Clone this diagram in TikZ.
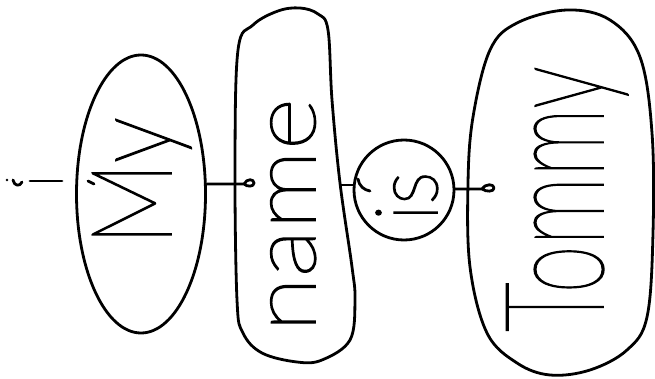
\documentclass[tikz,border=0pt]{standalone}
\usepackage{fontspec}
\usepackage{graphicx}
\usetikzlibrary{shapes.geometric}
\IfFontExistsTF{Lato Thin}{\newfontfamily\hand{Lato Thin}}{%
 \IfFontExistsTF{Poppins Thin}{\newfontfamily\hand{Poppins Thin}}{%
  \IfFontExistsTF{Fira Sans Thin}{\newfontfamily\hand{Fira Sans Thin}}{%
   \IfFontExistsTF{DejaVu Sans ExtraLight}{\newfontfamily\hand{DejaVu Sans ExtraLight}}{%
    \IfFontExistsTF{Open Sans Light}{\newfontfamily\hand{Open Sans Light}}{%
     \newfontfamily\hand{Liberation Sans}}}}}}
\newcommand\handsize[2]{\hand\fontsize{#1}{#1}\selectfont\addfontfeatures{FakeBold=#2}}
\tikzset{
  ink/.style={line width=2.8pt, line cap=round, line join=round, black},
  word/.style={inner sep=0pt, anchor=base west, rotate=90},
}
\begin{document}
\begin{tikzpicture}[x=1pt,y=-1pt]
\useasboundingbox (0,0) rectangle (655,379);
% shapes
\node[ink, draw, ellipse, minimum width=129pt, minimum height=278pt, inner sep=0pt] (my) at (141,194) {};
\draw[ink] plot[smooth cycle, tension=0.6] coordinates {(300,8) (318,14) (328,30) (332,100) (340,183) (352,267) (355,300) (350,340) (322,360) (297,362) (262,353) (243,333) (237,300) (235,167) (238,50) (253,25) (278,11)};
\node[ink, draw, circle, minimum size=100pt, inner sep=0pt] (is) at (404,190) {};
\draw[ink] plot[smooth cycle, tension=0.6] coordinates {(567,10) (610,20) (640,57) (652,133) (653,233) (647,317) (627,350) (590,370) (550,375) (517,363) (487,333) (470,267) (468,183) (473,117) (490,50) (517,23)};
% words
\node[word, font=\handsize{112}{1.6}] (tMy) at (171,246) {\scalebox{0.84}[1]{My}};
\node[word, font=\handsize{89}{2.0}] (tName) at (315,332) {\scalebox{1.13}[1]{name}};
\node[word, font=\handsize{87}{2.1}] (tIs) at (437,221) {\scalebox{0.9}[1]{is}};
\node[word, font=\handsize{138}{1.3}] (tTommy) at (603,332) {\scalebox{0.63}[1]{Tommy}};
% connectors
\coordinate (lA) at (244,184);
\draw[ink] (my.east |- lA) -- (lA) .. controls (247,178) and (254,179) .. (254,183) .. controls (254,187) and (247,187) .. (lA);
\coordinate (nR) at (341,185);
\draw[ink] (nR) -- (is.west |- nR);
\draw[ink] (358,179) .. controls (359,186) and (364,190) .. (370,191);
\coordinate (lC) at (482,189);
\draw[ink] (is.east |- lC) -- (lC) .. controls (486,183) and (494,184) .. (494,188) .. controls (494,192) and (486,192) .. (lC);
% stray marks at the left
\fill (7,180) circle (1.4pt);
\draw[ink] (13,180) .. controls (14,186) and (20,187) .. (22,182);
\draw[ink] (30,181) -- (62,181);
\draw[ink] (88,181) -- (94,184);
\end{tikzpicture}
\end{document}
